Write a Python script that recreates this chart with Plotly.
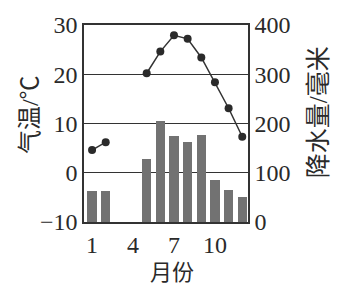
import plotly.graph_objects as go

months = [1, 2, 3, 4, 5, 6, 7, 8, 9, 10, 11, 12]
temperature = [4.6, 6.2, None, None, 20.2, 24.6, 27.9, 27.2, 23.4, 18.4, 13.1, 7.3]
precipitation = [63, 63, None, None, 128, 205, 174, 163, 176, 86, 64, 50]
month_ticks = [1, 4, 7, 10]
temp_ticks = [-10, 0, 10, 20, 30]
precip_ticks = [0, 100, 200, 300, 400]

FONT = "Liberation Serif, Noto Sans CJK SC, serif"
INK = "#2a2a2a"

fig = go.Figure()
fig.add_trace(go.Bar(
    x=months, y=precipitation, yaxis="y", width=0.68,
    marker=dict(color="#727272", line=dict(width=0)),
    showlegend=False,
))
fig.add_trace(go.Scatter(
    x=months, y=temperature, yaxis="y2", mode="lines+markers",
    line=dict(color="#333333", width=1.5),
    marker=dict(color=INK, size=8),
    connectgaps=False, showlegend=False,
))

fig.update_layout(
    width=347, height=293,
    margin=dict(l=84, r=99, t=23, b=71),
    paper_bgcolor="white", plot_bgcolor="white",
    font=dict(family=FONT, size=23, color=INK),
    xaxis=dict(
        range=[0.41, 12.42], tickvals=month_ticks, ticks="",
        showgrid=False, zeroline=False,
        showline=True, linecolor="#333333", linewidth=1.5, mirror=True,
        tickfont=dict(size=24),
    ),
    yaxis=dict(
        side="right", range=[0, 400], tickvals=precip_ticks, ticks="",
        showgrid=True, gridcolor="#333333", gridwidth=1.2, zeroline=False,
        showline=True, linecolor="#333333", linewidth=1.5, mirror=True,
        tickfont=dict(size=24),
    ),
    yaxis2=dict(
        side="left", overlaying="y", range=[-10, 30], tickvals=temp_ticks, ticks="",
        showgrid=False, zeroline=False,
        showline=True, linecolor="#333333", linewidth=1.5,
        tickfont=dict(size=24),
    ),
    bargap=0,
    annotations=[
        dict(text="气温/℃", xref="paper", yref="paper", x=-0.329, y=0.543,
             xanchor="center", yanchor="middle", textangle=-90, showarrow=False,
             font=dict(size=24)),
        dict(text="降水量/毫米", xref="paper", yref="paper", x=1.427, y=0.557,
             xanchor="center", yanchor="middle", textangle=-90, showarrow=False,
             font=dict(size=25)),
        dict(text="月份", xref="paper", yref="paper", x=0.537, y=-0.254,
             xanchor="center", yanchor="middle", showarrow=False,
             font=dict(size=22)),
    ],
)

fig.write_html("out.html")
